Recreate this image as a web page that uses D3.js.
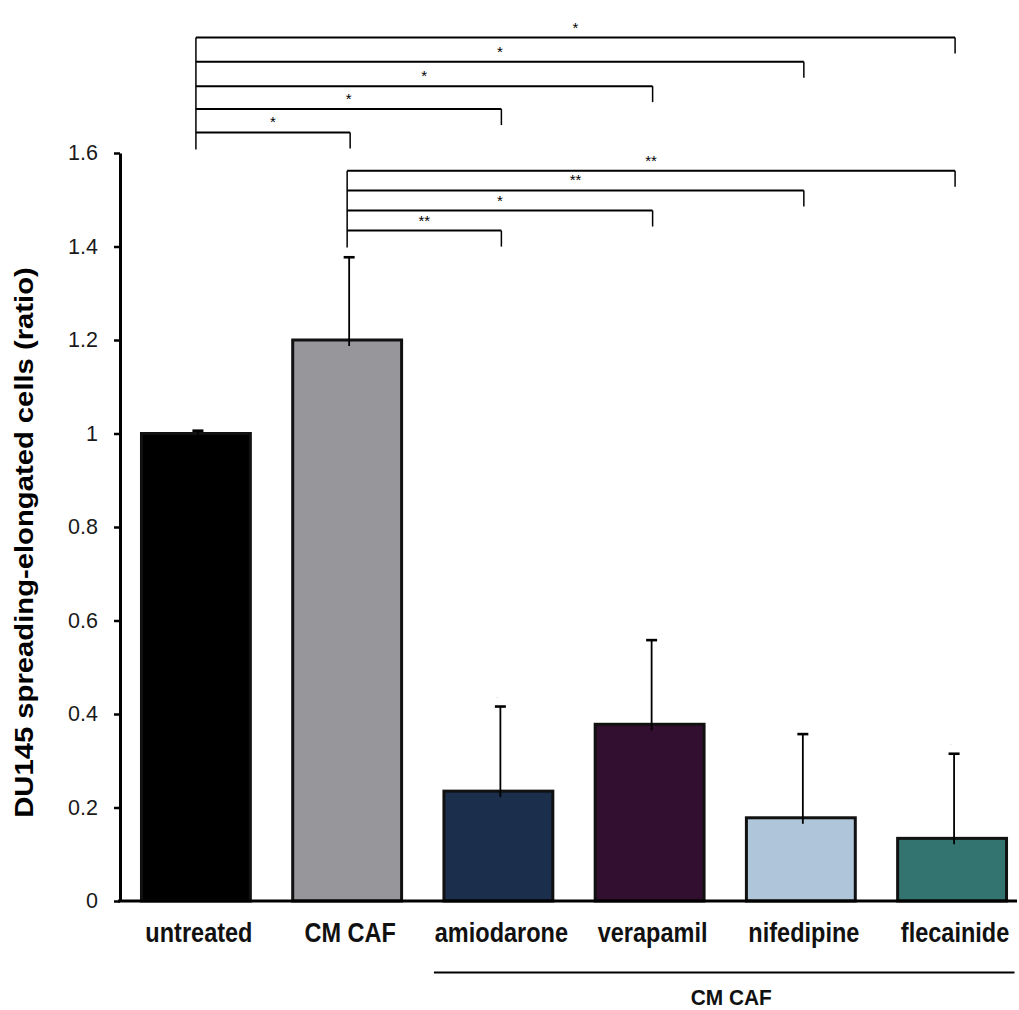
<!DOCTYPE html>
<html>
<head>
<meta charset="utf-8">
<script src="https://cdn.jsdelivr.net/npm/d3@7"></script>
<style>
  html, body { margin: 0; padding: 0; background: #ffffff; }
  svg { display: block; }
  text { font-family: "Liberation Sans", Arial, sans-serif; }
</style>
</head>
<body>
<script>
// ---- data ----
const categories = ["untreated", "CM CAF", "amiodarone", "verapamil", "nifedipine", "flecainide"];
const means      = [1.0, 1.2, 0.235, 0.378, 0.178, 0.134];
const errors     = [0.006, 0.177, 0.181, 0.180, 0.179, 0.181];
const barColors  = ["#000000", "#97969b", "#1b2e4b", "#320e30", "#afc5d9", "#347470"];
const yTicks     = [0, 0.2, 0.4, 0.6, 0.8, 1, 1.2, 1.4, 1.6];
const yTickLabels = ["0", "0.2", "0.4", "0.6", "0.8", "1", "1.2", "1.4", "1.6"];
const yTitle = "DU145 spreading-elongated cells (ratio)";
const groupLabel = "CM CAF";
const groupMembers = ["amiodarone", "verapamil", "nifedipine", "flecainide"];

// significance comparisons vs "untreated"
const topRef = "untreated";
const topTargets = ["flecainide", "nifedipine", "verapamil", "amiodarone", "CM CAF"];
const topLevels  = [1.847, 1.795, 1.743, 1.694, 1.644];
const topStars   = ["*", "*", "*", "*", "*"];
// significance comparisons vs "CM CAF"
const botRef = "CM CAF";
const botTargets = ["flecainide", "nifedipine", "verapamil", "amiodarone"];
const botLevels  = [1.562, 1.520, 1.477, 1.434];
const botStars   = ["**", "**", "*", "**"];
// faint marks above error caps
const faintMarks = ["amiodarone", "flecainide"];

// ---- layout ----
const W = 1019, H = 1010;
const svg = d3.select("body").append("svg").attr("width", W).attr("height", H);

const y = d3.scaleLinear().domain([0, 1.6]).range([901, 153]);
const x = d3.scaleBand().domain(categories).range([120, 1028])
  .paddingInner(0.28).paddingOuter(0.142);
const cx = c => x(c) + x.bandwidth() / 2;

// bars
svg.append("g").selectAll("rect").data(categories).join("rect")
  .attr("x", d => x(d))
  .attr("y", (d, i) => y(means[i]))
  .attr("width", x.bandwidth())
  .attr("height", (d, i) => y(0) - y(means[i]))
  .attr("fill", (d, i) => barColors[i])
  .attr("stroke", "#111")
  .attr("stroke-width", 3);

// error bars (upper only)
const eb = svg.append("g").attr("stroke", "#000");
categories.forEach((c, i) => {
  const ex = cx(c) + 2;
  eb.append("line").attr("x1", ex).attr("x2", ex)
    .attr("y1", y(means[i]) + 6).attr("y2", y(means[i] + errors[i]))
    .attr("stroke-width", 1.8);
  eb.append("line").attr("x1", ex - 5.5).attr("x2", ex + 5.5)
    .attr("y1", y(means[i] + errors[i])).attr("y2", y(means[i] + errors[i]))
    .attr("stroke-width", 2.6);
});

// faint marks
svg.append("g").selectAll("text").data(faintMarks).join("text")
  .attr("x", d => cx(d) - 1)
  .attr("y", d => { const i = categories.indexOf(d); return y(means[i] + errors[i]) - 8; })
  .attr("text-anchor", "middle")
  .attr("font-size", 5)
  .attr("fill", "#aaa")
  .text("··");

// y axis
const yAxis = svg.append("g").attr("transform", "translate(120,0)")
  .call(d3.axisLeft(y).tickValues(yTicks).tickSize(6).tickSizeOuter(0).tickPadding(16)
    .tickFormat((d, i) => yTickLabels[i]));
yAxis.select(".domain").attr("stroke", "#000").attr("stroke-width", 3);
yAxis.selectAll(".tick line").attr("stroke", "#000").attr("stroke-width", 2.5);
yAxis.selectAll(".tick text")
  .attr("font-family", "Liberation Sans, Arial, sans-serif")
  .attr("font-size", 21.5).attr("fill", "#1a1a1a");

// x axis baseline
svg.append("line").attr("x1", 118).attr("x2", 1017)
  .attr("y1", y(0)).attr("y2", y(0))
  .attr("stroke", "#000").attr("stroke-width", 3);

// category labels
svg.append("g").selectAll("text").data(categories).join("text")
  .attr("transform", d => `translate(${cx(d) + 3},941.5) scale(0.84,1)`)
  .attr("text-anchor", "middle")
  .attr("font-weight", "bold")
  .attr("font-size", 28)
  .attr("fill", "#111")
  .text(d => d);

// group line + label
const gx1 = x(groupMembers[0]) - 10;
const gx2 = x(groupMembers[groupMembers.length - 1]) + x.bandwidth() + 8;
svg.append("line").attr("x1", gx1).attr("x2", gx2)
  .attr("y1", 972.5).attr("y2", 972.5)
  .attr("stroke", "#000").attr("stroke-width", 1.8);
svg.append("text")
  .attr("transform", `translate(${(cx(groupMembers[1]) + cx(groupMembers[2])) / 2 + 6},1005) scale(0.95,1)`)
  .attr("text-anchor", "middle")
  .attr("font-weight", "bold")
  .attr("font-size", 22)
  .attr("fill", "#111")
  .text(groupLabel);

// y title
svg.append("text")
  .attr("transform", "translate(33,542.5) rotate(-90) scale(1.17,1)")
  .attr("text-anchor", "middle")
  .attr("font-weight", "bold")
  .attr("font-size", 25)
  .attr("fill", "#000")
  .text(yTitle);

// significance brackets
function brackets(ref, targets, levels, stars) {
  const g = svg.append("g").attr("stroke", "#000");
  const x0 = cx(ref);
  const yTop = y(d3.max(levels));
  const yBot = y(d3.min(levels)) + 17;
  g.append("line").attr("x1", x0).attr("x2", x0).attr("y1", yTop).attr("y2", yBot)
    .attr("stroke-width", 1.5);
  targets.forEach((t, i) => {
    const x1 = cx(t) + 3;
    const yl = y(levels[i]);
    g.append("line").attr("x1", x0).attr("x2", x1).attr("y1", yl).attr("y2", yl)
      .attr("stroke-width", 2);
    g.append("line").attr("x1", x1).attr("x2", x1).attr("y1", yl).attr("y2", yl + 16)
      .attr("stroke-width", 1.5);
    svg.append("text")
      .attr("x", (x0 + x1) / 2).attr("y", yl - 5)
      .attr("text-anchor", "middle")
      .attr("font-size", 15)
      .attr("fill", "#000")
      .text(stars[i]);
  });
}
brackets(topRef, topTargets, topLevels, topStars);
brackets(botRef, botTargets, botLevels, botStars);
</script>
</body>
</html>
